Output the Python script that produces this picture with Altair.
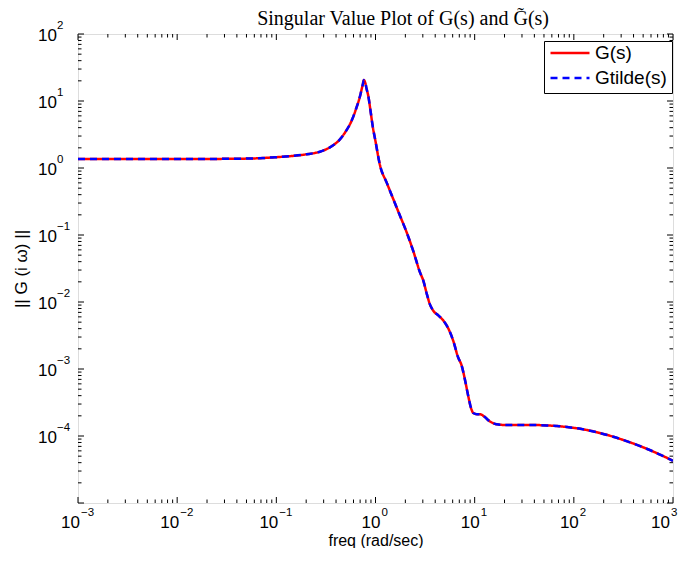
import altair as alt
import pandas as pd

# ---------------- data ----------------
freq = [0.001, 0.003, 0.01, 0.02, 0.04, 0.06, 0.1, 0.15, 0.2, 0.275, 0.35, 0.44,
        0.5, 0.575, 0.64, 0.7, 0.74, 0.765, 0.79, 0.815, 0.845, 0.89, 0.935, 1.0,
        1.11, 1.3, 1.51, 1.75, 2.06, 2.4, 2.81, 3.03, 3.3, 3.54, 3.83, 4.3, 4.83,
        5.3, 6.1, 6.8, 7.4, 8.0, 8.6, 9.2, 9.7, 10.5, 11.3, 12.5, 14.0, 16.6, 20.0,
        36.0, 78.0, 120.0, 170.0, 250.0, 368.0, 550.0, 1000.0]
g_mag = [1.36, 1.36, 1.36, 1.365, 1.375, 1.39, 1.45, 1.52, 1.6, 1.75, 2.05, 2.7,
         3.5, 5.1, 7.8, 12.0, 17.0, 20.5, 18.5, 15.0, 12.0, 7.2, 4.3, 2.5,
         1.1, 0.6, 0.344, 0.2, 0.11, 0.058, 0.0277, 0.021, 0.013, 0.0092, 0.0074, 0.0063, 0.0053,
         0.0043, 0.0026, 0.0015, 0.00112, 0.00068, 0.00040, 0.00026, 0.00022, 0.000212, 0.000212,
         0.000195, 0.000168, 0.00015, 0.000146,
         0.000146, 0.000138, 0.000127, 0.000114, 0.0000975, 0.0000805, 0.000064, 0.0000427]
gtilde_mag = [1.36, 1.36, 1.36, 1.365, 1.375, 1.39, 1.45, 1.52, 1.6, 1.75, 2.05, 2.7,
              3.5, 5.1, 7.8, 12.0, 17.0, 20.5, 18.5, 15.0, 12.0, 7.2, 4.3, 2.5,
              1.1, 0.6, 0.344, 0.2, 0.11, 0.058, 0.0277, 0.021, 0.013, 0.0092, 0.0074, 0.0063, 0.0053,
              0.0043, 0.0026, 0.0015, 0.00112, 0.00068, 0.00040, 0.00026, 0.00022, 0.000212, 0.000212,
              0.000195, 0.000168, 0.00015, 0.000146,
              0.000146, 0.000138, 0.000127, 0.000114, 0.0000975, 0.0000805, 0.000064, 0.0000427]
series_names = ["G(s)", "Gtilde(s)"]
title_text = ["Singular Value Plot of G(s) and G(s)"]
title_accent = ["\u02dc"]

x_decades = [1e-3, 1e-2, 1e-1, 1e0, 1e1, 1e2, 1e3]
x_exps = ["\u22123", "\u22122", "\u22121", "0", "1", "2", "3"]
x_grp = [1, 1, 1, 0, 0, 0, 2]
y_decades = [1e-4, 1e-3, 1e-2, 1e-1, 1e0, 1e1, 1e2]
y_exps = ["\u22124", "\u22123", "\u22122", "\u22121", "0", "1", "2"]
x_minor = [m * 10.0 ** k for k in range(-3, 3) for m in range(2, 10)]
y_minor = [m * 10.0 ** k for k in range(-5, 2) for m in range(2, 10)]
y_major_ticks = [10.0 ** k for k in range(-5, 3)]

# ---------------- layout / style ----------------
W, H = 595, 469
SANS = "Liberation Sans"
SERIF = "Liberation Serif"
xs = alt.Scale(type="log", domain=[1e-3, 1e3], nice=False)
ys = alt.Scale(type="log", domain=[1e-5, 1e2], nice=False)

x_axis = alt.Axis(title="freq (rad/sec)", labels=False, ticks=False, domain=False,
                  grid=False, titleFont=SANS, titleFontSize=16,
                  titleFontWeight="normal", titleColor="black",
                  titleY=37, titleBaseline="middle")
y_axis = alt.Axis(title="|| G (i \u03c9) ||", labels=False, ticks=False, domain=False,
                  grid=False, titleFont=SANS, titleFontSize=17,
                  titleFontWeight="normal", titleColor="black",
                  titleX=-57, titleY=H / 2, titleAngle=270, titleBaseline="middle")

df = pd.DataFrame({
    "freq": freq + freq,
    "mag": g_mag + gtilde_mag,
    "series": [series_names[0]] * len(freq) + [series_names[1]] * len(freq),
})

leg = alt.Legend(title=None, orient="none", legendX=466, legendY=7,
                 symbolType="stroke", symbolSize=1521, symbolStrokeWidth=2.5,
                 labelFont=SANS, labelFontSize=19, labelColor="black",
                 strokeColor="black", fillColor="white", padding=5,
                 clipHeight=14, rowPadding=6, labelOffset=4)

line = alt.Chart(df).mark_line(strokeWidth=2.5, interpolate="monotone", clip=True).encode(
    x=alt.X("freq:Q", scale=xs, axis=x_axis),
    y=alt.Y("mag:Q", scale=ys, axis=y_axis),
    color=alt.Color("series:N", scale=alt.Scale(domain=series_names, range=["#ff0000", "#0000ff"]),
                    legend=leg),
    strokeDash=alt.StrokeDash("series:N", scale=alt.Scale(domain=series_names, range=[[1, 0], [7, 5]]),
                              legend=leg),
)


def xticks(vals, length):
    d = pd.DataFrame({"v": vals})
    bottom = alt.Chart(d).mark_rule(color="black", strokeWidth=1).encode(
        x=alt.X("v:Q", scale=xs, axis=x_axis), y=alt.value(H), y2=alt.value(H - length))
    top = alt.Chart(d).mark_rule(color="black", strokeWidth=1).encode(
        x=alt.X("v:Q", scale=xs, axis=x_axis), y=alt.value(0), y2=alt.value(length))
    return [bottom, top]


def yticks(vals, length):
    d = pd.DataFrame({"v": vals})
    left = alt.Chart(d).mark_rule(color="black", strokeWidth=1).encode(
        y=alt.Y("v:Q", scale=ys, axis=y_axis), x=alt.value(0), x2=alt.value(length))
    right = alt.Chart(d).mark_rule(color="black", strokeWidth=1).encode(
        y=alt.Y("v:Q", scale=ys, axis=y_axis), x=alt.value(W), x2=alt.value(W - length))
    return [left, right]


ticks = xticks(x_decades, 6) + xticks(x_minor, 3.5) + yticks(y_major_ticks, 6) + yticks(y_minor, 3.5)

xl = pd.DataFrame({"v": x_decades, "e": x_exps, "grp": x_grp})
yl = pd.DataFrame({"v": y_decades, "e": y_exps})

xlabels = []
for grp, dxb, dxe in [(1, 2, 3), (0, 5, 6), (2, -3, -2)]:
    base = alt.Chart(xl).transform_filter(alt.datum.grp == grp).mark_text(
        text="10", align="right", baseline="middle", dx=dxb, fontSize=17, font=SANS, color="black"
    ).encode(x=alt.X("v:Q", scale=xs, axis=x_axis), y=alt.value(H + 20))
    expo = alt.Chart(xl).transform_filter(alt.datum.grp == grp).mark_text(
        align="left", baseline="middle", dx=dxe, fontSize=11.5, font=SANS, color="black"
    ).encode(x=alt.X("v:Q", scale=xs, axis=x_axis), y=alt.value(H + 10), text="e:N")
    xlabels += [base, expo]

ybase = alt.Chart(yl).mark_text(
    text="10", align="right", baseline="middle", dy=2, fontSize=17, font=SANS, color="black"
).encode(y=alt.Y("v:Q", scale=ys, axis=y_axis), x=alt.value(-21))
yexpo = alt.Chart(yl).mark_text(
    align="left", baseline="middle", dy=-8, fontSize=11.5, font=SANS, color="black"
).encode(y=alt.Y("v:Q", scale=ys, axis=y_axis), x=alt.value(-21), text="e:N")

title = alt.Chart(pd.DataFrame({"t": title_text})).mark_text(
    font=SERIF, fontSize=20, color="black", align="right", baseline="middle"
).encode(x=alt.value(471), y=alt.value(-15), text="t:N")
accent = alt.Chart(pd.DataFrame({"t": title_accent})).mark_text(
    font=SERIF, fontSize=20, color="black", align="center", baseline="middle"
).encode(x=alt.value(442.7), y=alt.value(-18), text="t:N")

chart = alt.layer(line, *ticks, *xlabels, ybase, yexpo, title, accent).properties(
    width=W, height=H,
    autosize=alt.AutoSizeParams(type="none"),
    padding={"left": 70, "top": 26, "right": 5, "bottom": 45},
).configure_view(stroke="black", strokeWidth=1.2).configure(background="white")

chart.save("out.html", embed_options={"renderer": "svg", "actions": False})
